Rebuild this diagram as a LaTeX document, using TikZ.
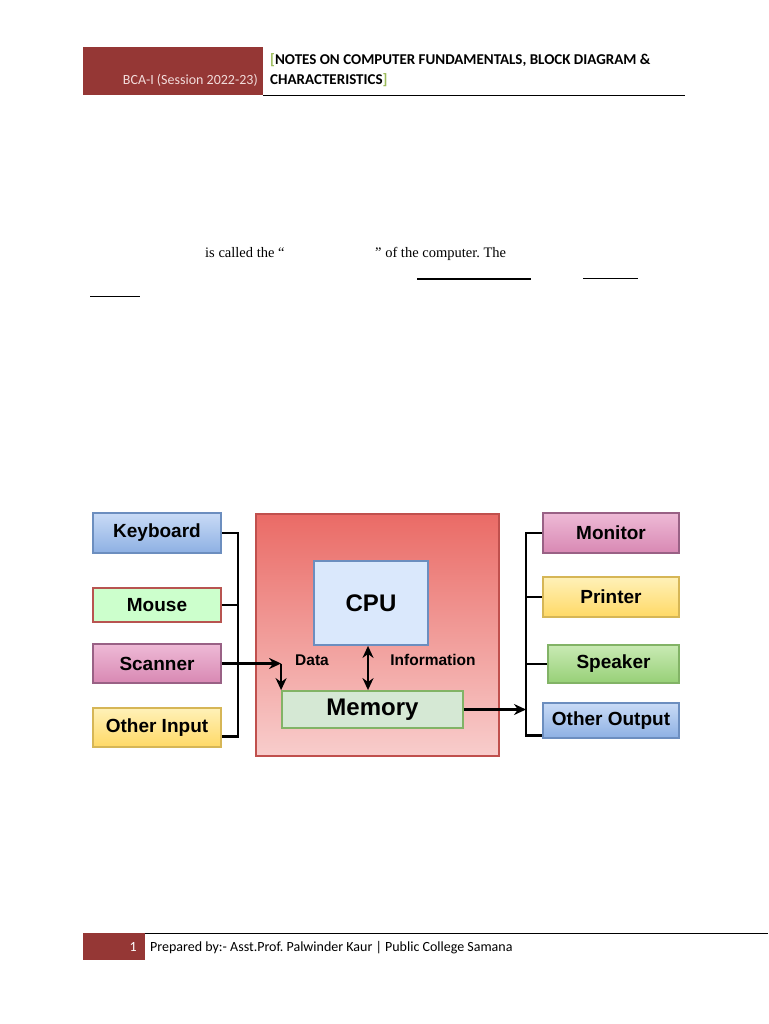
\documentclass[tikz,border=0pt]{standalone}
\usepackage{fontspec}
\setmainfont{Liberation Serif}
\newfontfamily\arialfont{Liberation Sans}
\newfontfamily\calibrifont{Carlito}
\usetikzlibrary{arrows.meta,calc}
\frenchspacing

\definecolor{hdrred}{HTML}{953735}
\definecolor{hdrpink}{HTML}{F2DCDB}
\definecolor{brkgreen}{HTML}{9BBB59}
\definecolor{systop}{HTML}{EA6B66}
\definecolor{sysbot}{HTML}{F8CDCC}
\definecolor{sysline}{HTML}{C0504D}
\definecolor{bluetop}{HTML}{C9DBF6}
\definecolor{bluebot}{HTML}{8DB0E3}
\definecolor{blueline}{HTML}{6C8EBF}
\definecolor{pinktop}{HTML}{EEBAD6}
\definecolor{pinkbot}{HTML}{D888B3}
\definecolor{pinkline}{HTML}{996185}
\definecolor{yeltop}{HTML}{FFF1B8}
\definecolor{yelbot}{HTML}{FFD966}
\definecolor{yelline}{HTML}{D6B656}
\definecolor{grntop}{HTML}{C9EAB4}
\definecolor{grnbot}{HTML}{97D077}
\definecolor{grnline}{HTML}{82B366}
\definecolor{mousefill}{HTML}{CCFFCC}
\definecolor{mouseline}{HTML}{B85450}
\definecolor{cpufill}{HTML}{DAE8FC}
\definecolor{memfill}{HTML}{D5E8D4}

\tikzset{
  devbox/.style={draw, line width=1.8pt, inner sep=0pt, minimum width=128pt,
    minimum height=39pt, font=\arialfont\bfseries\fontsize{19}{19}\selectfont},
  bluebox/.style={devbox, top color=bluetop, bottom color=bluebot, draw=blueline},
  pinkbox/.style={devbox, top color=pinktop, bottom color=pinkbot, draw=pinkline},
  yelbox/.style={devbox, top color=yeltop, bottom color=yelbot, draw=yelline},
  grnbox/.style={devbox, top color=grntop, bottom color=grnbot, draw=grnline},
  unitbox/.style={draw, line width=1.8pt, inner sep=0pt,
    font=\arialfont\bfseries\fontsize{24}{24}\selectfont},
  flowlabel/.style={inner sep=0pt, font=\arialfont\bfseries\fontsize{15.5}{15.5}\selectfont},
  bus/.style={line width=2.4pt},
  hdrtext/.style={inner sep=0pt, font=\calibrifont\fontsize{14}{14}\selectfont},
  hdrbold/.style={inner sep=0pt, font=\calibrifont\bfseries\fontsize{15}{15}\selectfont},
  bodytext/.style={inner sep=0pt, font=\fontsize{14.5}{14.5}\selectfont}
}

\begin{document}
\begin{tikzpicture}[x=1pt, y=-1pt, >={Stealth[length=12pt,width=11pt]}]
  \useasboundingbox[fill=white] (0,0) rectangle (768,1024);

  % header
  \fill[hdrred] (83,47) rectangle (263,95);
  \draw[line width=0.9pt] (263,95) -- (685,95);
  \node[hdrtext, text=hdrpink, anchor=base east] (session) at (258,85) {BCA-I (Session 2022-23)};
  \node[hdrbold, anchor=base west] (title1) at (270,65)
    {\textcolor{brkgreen}{[}NOTES ON COMPUTER FUNDAMENTALS, BLOCK DIAGRAM \&};
  \node[hdrbold, anchor=base west] (title2) at (270,85)
    {CHARACTERISTICS\textcolor{brkgreen}{]}};

  % body text fragments
  \node[bodytext, anchor=base west] (called) at (205,258) {is called the “};
  \node[bodytext, anchor=base west] (ofthe) at (375,258) {” of the computer. The};
  \draw[line width=1.8pt] (417,279) -- (531,279);
  \draw[line width=0.9pt] (583,278) -- (638,278);
  \draw[line width=0.9pt] (90,296) -- (140,296);

  % system unit
  \node[draw=sysline, line width=1.8pt, top color=systop, bottom color=sysbot,
    minimum width=243pt, minimum height=242pt] (sys) at (377.5,635) {};
  \node[unitbox, fill=cpufill, draw=blueline, minimum width=114pt, minimum height=84pt] (cpu) at (371,603) {CPU};
  \node[unitbox, fill=memfill, draw=grnline, minimum width=181pt, minimum height=37pt] (mem) at (372.5,709.5) {Memory};
  \node[flowlabel] (data) at (312,660) {Data};
  \node[flowlabel] (info) at (433,660) {Information};

  % input devices
  \node[bluebox, minimum height=40pt] (kbd) at (157,533) {Keyboard};
  \node[devbox, fill=mousefill, draw=mouseline, minimum height=34pt] (mouse) at (157,605) {Mouse};
  \node[pinkbox] (scan) at (157,663.5) {Scanner};
  \node[yelbox] (oin) at (157,727.5) {Other Input};

  % output devices
  \node[pinkbox, minimum width=136pt, minimum height=40pt] (mon) at (611,533) {Monitor};
  \node[yelbox, minimum width=136pt, minimum height=40pt] (prn) at (611,597) {Printer};
  \node[grnbox, minimum width=131pt, minimum height=38pt] (spk) at (613.5,664) {Speaker};
  \node[bluebox, minimum width=136pt, minimum height=35pt] (oout) at (611,720.5) {Other Output};

  % input bus
  \coordinate (ibus) at (238,0);
  \coordinate (oinend) at ([yshift=-9pt]oin.east);
  \draw[bus] (kbd.east) -- (kbd.east -| ibus) -- (oinend -| ibus) -- (oinend);
  \draw[bus] (mouse.east) -- (mouse.east -| ibus);
  \draw[bus, ->] (scan.east) -- (scan.east -| mem.west);
  \draw[bus, ->] (scan.east -| mem.west) -- (mem.north west);

  % cpu <-> memory
  \draw[bus, <->] ([xshift=-3pt]cpu.south) -- ([xshift=-3pt]cpu.south |- mem.north);

  % output bus
  \coordinate (obus) at (526,0);
  \coordinate (ooutend) at ([yshift=-15pt]oout.west);
  \draw[bus] (mon.west) -- (mon.west -| obus) -- (ooutend -| obus) -- (ooutend);
  \draw[bus] (prn.west) -- (prn.west -| obus);
  \draw[bus] (spk.west) -- (spk.west -| obus);
  \draw[bus, ->] (mem.east) -- (mem.east -| obus);

  % footer
  \fill[hdrred] (83,933) rectangle (145,960);
  \draw[line width=0.9pt] (145,933) -- (768,933);
  \node[hdrtext, text=white, anchor=base east] (pageno) at (137,951) {1};
  \node[hdrtext, anchor=base west] (prepared) at (150,951)
    {Prepared by:- Asst.Prof. Palwinder Kaur | Public College Samana};
\end{tikzpicture}
\end{document}
